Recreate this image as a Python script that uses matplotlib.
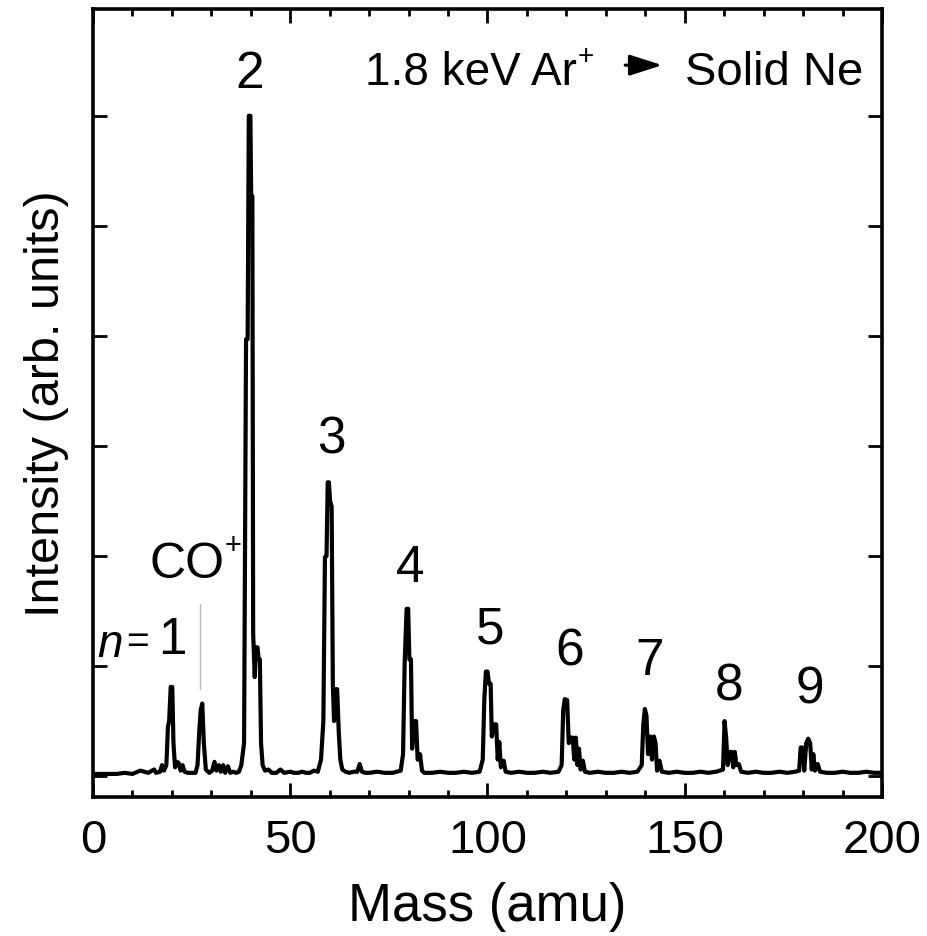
import numpy as np
import matplotlib
matplotlib.use("Agg")
import matplotlib.pyplot as plt

plt.rcParams['font.family'] = ['Liberation Sans', 'DejaVu Sans']

# spectrum (mass in amu, intensity in arb. units)
mass = [0, 2, 4, 6, 8, 10, 12, 14, 15.5, 16, 17, 17.5, 18,
        18.6, 19.0, 19.3, 19.7, 20.1, 20.4, 20.8, 21.3, 21.7, 22.2, 22.7, 23.2, 24, 25, 26,
        26.5, 26.9, 27.3, 27.7, 28.1, 28.6, 29.5, 30.2, 30.8, 31.3, 31.9, 32.4, 33, 33.5,
        34.2, 34.8, 35.5, 36.3, 37, 37.6,
        38.3, 38.8, 39.2, 39.5, 39.9, 40.1, 40.4, 40.6, 41.0, 41.3, 41.7, 42.0, 42.3, 42.6, 43.0,
        43.6, 44.5, 45.3, 46.5, 47.5, 48.5, 50, 51, 52, 53, 54, 55, 56, 57,
        57.8, 58.4, 58.8, 59.2, 59.5, 59.8, 60.1, 60.5, 60.8, 61.1, 61.5, 61.9, 62.3, 62.7, 63.2,
        64, 65, 66, 67, 67.6, 68.2, 69, 70, 72, 74, 76, 77, 78,
        78.6, 79.0, 79.5, 79.9, 80.2, 80.6, 80.9, 81.4, 81.9, 82.3, 82.9, 83.4,
        84, 86, 88, 90, 92, 94, 96, 98,
        98.8, 99.2, 99.6, 100.0, 100.4, 100.8, 101.1, 101.6, 102.2, 102.6, 103.0, 103.4, 104.1, 104.6,
        106, 108, 110, 112, 114, 116, 118,
        118.8, 119.2, 119.6, 120.2, 120.6, 121.0, 121.6, 122.0, 122.4, 122.8, 123.2, 123.6, 124.2, 124.7,
        126, 128, 130, 132, 134, 136, 138,
        139.1, 139.5, 139.9, 140.3, 140.7, 141.3, 141.7, 142.2, 142.6, 143.0, 143.6, 144.2,
        146, 148, 150, 152, 154, 156, 158,
        159.7, 160.1, 160.5, 160.9, 161.4, 161.9, 162.3, 162.7, 163.1, 163.7, 164.3,
        166, 168, 170, 172, 174, 176, 178,
        179.0, 179.4, 179.9, 180.3, 180.8, 181.3, 181.8, 182.2, 182.6, 183.0, 183.7, 184.3,
        186, 188, 190, 192, 194, 196, 198, 200]
inten = [0.02, 0.02, 0.02, 0.02, 0.03, 0.02, 0.05, 0.03, 0.06, 0.03, 0.04, 0.1, 0.05,
         0.1, 0.45, 0.5, 0.81, 0.81, 0.3, 0.08, 0.13, 0.12, 0.05, 0.1, 0.04, 0.03, 0.03, 0.03,
         0.1, 0.38, 0.6, 0.66, 0.3, 0.06, 0.03, 0.05, 0.13, 0.05, 0.1, 0.04, 0.1, 0.03,
         0.09, 0.03, 0.04, 0.03, 0.04, 0.1,
         0.3, 3.97, 3.97, 6.0, 6.0, 5.27, 5.27, 1.3, 0.9, 1.17, 1.17, 1.06, 1.06, 0.3, 0.1,
         0.05, 0.06, 0.03, 0.03, 0.06, 0.03, 0.04, 0.03, 0.03, 0.04, 0.03, 0.03, 0.05, 0.04,
         0.15, 0.5, 1.99, 2.0, 2.67, 2.67, 2.5, 2.45, 0.84, 0.5, 0.79, 0.79, 0.4, 0.15, 0.06,
         0.04, 0.03, 0.04, 0.04, 0.11, 0.04, 0.03, 0.03, 0.04, 0.03, 0.03, 0.04, 0.05,
         0.2, 1.02, 1.52, 1.52, 1.06, 1.06, 0.25, 0.5, 0.5, 0.15, 0.2, 0.05,
         0.03, 0.03, 0.04, 0.03, 0.03, 0.04, 0.03, 0.04,
         0.15, 0.7, 0.95, 0.95, 0.84, 0.84, 0.36, 0.47, 0.47, 0.15, 0.31, 0.08, 0.14, 0.04,
         0.03, 0.04, 0.03, 0.03, 0.04, 0.03, 0.04,
         0.1, 0.6, 0.70, 0.69, 0.3, 0.35, 0.35, 0.15, 0.35, 0.1, 0.25, 0.06, 0.14, 0.04,
         0.03, 0.04, 0.03, 0.03, 0.04, 0.03, 0.04,
         0.1, 0.47, 0.61, 0.55, 0.2, 0.36, 0.15, 0.36, 0.3, 0.05, 0.14, 0.04,
         0.03, 0.04, 0.03, 0.03, 0.04, 0.03, 0.04,
         0.06, 0.5, 0.35, 0.1, 0.22, 0.22, 0.08, 0.22, 0.1, 0.11, 0.04,
         0.03, 0.04, 0.03, 0.03, 0.04, 0.03, 0.04,
         0.05, 0.26, 0.26, 0.05, 0.3, 0.34, 0.3, 0.06, 0.2, 0.05, 0.11, 0.04,
         0.03, 0.03, 0.04, 0.03, 0.03, 0.04, 0.03, 0.03]

# cluster size labels
n_labels = ['2', '3', '4', '5', '6', '7', '8', '9']
n_x = [39.8, 60.3, 80.4, 100.6, 120.9, 141.2, 161.2, 181.7]
n_y = [6.38, 3.06, 1.9, 1.34, 1.14, 1.05, 0.82, 0.79]

fig = plt.figure(figsize=(9.28, 9.37), dpi=100)
ax = fig.add_axes([0.1002, 0.1483, 0.8502, 0.841])

ax.plot(mass, inten, color='black', lw=3.0)
# marker line for CO+
ax.plot([27.1, 27.1], [0.79, 1.56], color='#bbbbbb', lw=1)

for lab, x, y in zip(n_labels, n_x, n_y):
    ax.text(x, y, lab, fontsize=37, ha='center', va='center')

co = ax.text(23.8, 1.93, 'CO', fontsize=36, ha='center', va='center')
ax.annotate('+', xy=(1, 1), xycoords=co, xytext=(0.5, 7), textcoords='offset points',
            fontsize=21, ha='left', va='top')
ax.text(1.0, 1.2, 'n', fontsize=33, style='italic', ha='left', va='center')
ax.text(11.2, 1.22, '=', fontsize=28, ha='center', va='center')
ax.text(20.0, 1.24, '1', fontsize=37, ha='center', va='center')

ar = ax.text(69.0, 6.4, '1.8 keV Ar', fontsize=33, ha='left', va='center')
ax.annotate('+', xy=(1, 1), xycoords=ar, xytext=(0.5, 5), textcoords='offset points',
            fontsize=20, ha='left', va='top')
ax.annotate('', xy=(145.0, 6.46), xytext=(134.2, 6.46),
            arrowprops=dict(arrowstyle='-|>,head_length=1.0,head_width=0.32',
                            mutation_scale=20, color='black', lw=2.2))
ax.text(195.2, 6.4, 'Solid Ne', fontsize=34, ha='right', va='center')

ax.set_xlim(0, 200)
ax.set_ylim(-0.19, 6.97)
ax.set_xticks(np.arange(0, 201, 50))
ax.set_xticks(np.arange(0, 201, 10), minor=True)
ax.set_yticks(np.arange(0, 7, 1))
ax.set_yticklabels([])
ax.tick_params(which='both', direction='in', top=True, right=True, width=2.0)
ax.tick_params(which='major', length=10)
ax.tick_params(which='minor', length=5)
ax.tick_params(axis='x', labelsize=34, pad=15)
for s in ax.spines.values():
    s.set_linewidth(2.6)

ax.set_xlabel('Mass (amu)', fontsize=38, labelpad=14)
ax.set_ylabel('Intensity (arb. units)', fontsize=35, labelpad=14)

fig.savefig('out.png', dpi=100)
